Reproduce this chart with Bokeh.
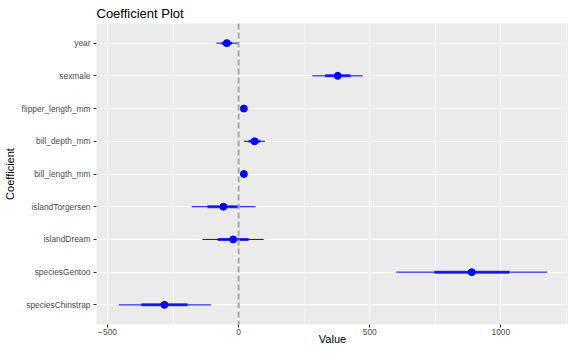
from bokeh.plotting import figure
from bokeh.models import FactorRange, Range1d, FixedTicker, Span, ColumnDataSource
from bokeh.embed import file_html
from bokeh.resources import INLINE

terms = ["year", "sexmale", "flipper_length_mm", "bill_depth_mm", "bill_length_mm",
         "islandTorgersen", "islandDream", "speciesGentoo", "speciesChinstrap"]
estimate = [-45, 378, 20, 61, 20, -58, -21, 889, -283]
inner_lo = [-65, 330, 15, 38, 17, -119, -80, 746, -371]
inner_hi = [-25, 427, 25, 83, 23, 3, 38, 1033, -194]
outer_lo = [-85, 281, 10, 20, 14, -179, -138, 601, -457]
outer_hi = [-3, 473, 30, 100, 26, 64, 96, 1177, -106]
x_ticks = [-500, 0, 500, 1000]
x_minor = [-250, 250, 750, 1250]

src = ColumnDataSource(dict(term=terms, est=estimate, ilo=inner_lo, ihi=inner_hi,
                            olo=outer_lo, ohi=outer_hi))

font = "Liberation Sans"
p = figure(width=568, height=347, output_backend="svg", toolbar_location=None,
           y_range=FactorRange(factors=terms[::-1], range_padding=0.2 / 9),
           x_range=Range1d(-542, 1258),
           title="Coefficient Plot",
           min_border_left=0, min_border_right=0, min_border_top=0, min_border_bottom=0)
p.background_fill_color = "#EBEBEB"
p.border_fill_color = "white"
p.outline_line_color = None

p.title.text_font = font
p.title.text_font_size = "13px"
p.title.text_font_style = "normal"
p.title.text_color = "black"
p.title.offset = 0
p.title.standoff = 6

p.xaxis.ticker = FixedTicker(ticks=x_ticks, minor_ticks=x_minor)
for ax in (p.xaxis[0], p.yaxis[0]):
    ax.axis_line_color = None
    ax.major_tick_out = 3
    ax.major_tick_in = 0
    ax.major_tick_line_color = "#333333"
    ax.minor_tick_line_color = None
    ax.major_label_text_font = font
    ax.major_label_text_font_size = "8.4px"
    ax.major_label_text_color = "#4D4D4D"
    ax.axis_label_text_font = font
    ax.axis_label_text_font_size = "11px"
    ax.axis_label_text_font_style = "normal"
    ax.axis_label_text_color = "black"
p.xaxis.axis_label = "Value"
p.yaxis.axis_label = "Coefficient"
p.xaxis.major_label_standoff = 0
p.xaxis.axis_label_standoff = -5
p.yaxis.major_label_standoff = 3
p.yaxis.axis_label_standoff = 3

p.xgrid.grid_line_color = "white"
p.xgrid.grid_line_width = 1.1
p.xgrid.minor_grid_line_color = "white"
p.xgrid.minor_grid_line_width = 0.55
p.ygrid.grid_line_color = "white"
p.ygrid.grid_line_width = 1.1

p.add_layout(Span(location=0, dimension="height", line_color="#A8A8A8",
                  line_width=2, line_dash="6 3"))

p.segment(x0="olo", x1="ohi", y0="term", y1="term", source=src,
          line_color="#0000FF", line_width=1)
p.segment(x0="ilo", x1="ihi", y0="term", y1="term", source=src,
          line_color="#0000FF", line_width=3, line_alpha=0.8)
p.scatter(x="est", y="term", source=src, size=7, fill_color="#0000FF",
          line_color="#0000FF")

open("out.html", "w").write(file_html(p, INLINE))
